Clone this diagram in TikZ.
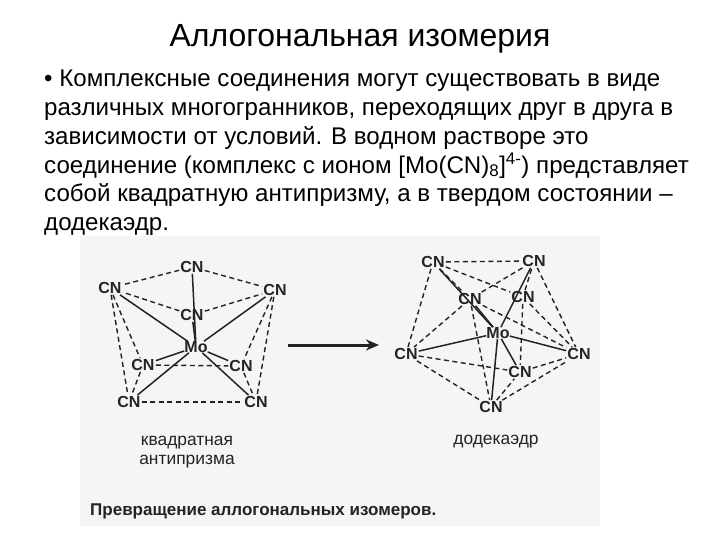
\documentclass[tikz,border=0pt]{standalone}
\usepackage{fontspec}
\setmainfont{Liberation Sans}
\usetikzlibrary{arrows.meta, positioning}
\definecolor{scanGray}{RGB}{245, 245, 245}
\definecolor{inkDark}{RGB}{35, 35, 35}
\tikzset{
  ligand/.style={
    font=\fontsize{16}{16}\selectfont\bfseries,
    color=inkDark, inner sep=1pt
  },
  metal/.style={
    font=\fontsize{16}{16}\selectfont\bfseries,
    color=inkDark, inner sep=0pt
  },
  bondsolid/.style={
    color=inkDark, line width=1.5pt
  },
  bonddash/.style={
    color=inkDark, line width=1.4pt, dash pattern=on 5pt off 3.5pt
  },
  caplabel/.style={
    font=\fontsize{17.4}{19}\selectfont,
    color=inkDark, align=center, inner sep=0pt
  },
  arrow/.style={
    -{Stealth[length=13pt,width=11pt]},
    line width=3pt,
    color=inkDark
  }
}

\begin{document}
\begin{tikzpicture}[x=1pt, y=-1pt]

  \useasboundingbox (0,0) rectangle (720,540);

  % ── Scanned page ──────────────────────────────────────────────────────────
  \fill[scanGray] (80,236) rectangle (600,526);

  % ── Slide text ────────────────────────────────────────────────────────────
  \node[font=\fontsize{32}{34}\selectfont,inner sep=0pt] (title) at (360,39) {Аллогональная изомерия};
  \node[anchor=north west,inner sep=0pt,align=left,font=\fontsize{24.1}{28.8}\selectfont] (body) at (44,70) {%
    • Комплексные соединения могут существовать в виде\\
    различных многогранников, переходящих друг в друга в\\
    зависимости от условий. В водном растворе это\\
    соединение (комплекс с ионом [Mo(CN)\textsubscript{8}]\textsuperscript{4-}) представляет\\
    собой квадратную антипризму, а в твердом состоянии –\\
    додекаэдр.};

  % ── Square antiprism ──────────────────────────────────────────────────────
  \node[metal] (moA) at (196,347) {Mo};
  \node[ligand] (aTop) at (192,267) {CN};
  \node[ligand] (aLeft) at (110,288) {CN};
  \node[ligand] (aRight) at (275,290) {CN};
  \node[ligand] (aMid) at (192,315) {CN};
  \node[ligand] (aInL) at (143,365) {CN};
  \node[ligand] (aInR) at (241,366) {CN};
  \node[ligand] (aBotL) at (129,402) {CN};
  \node[ligand] (aBotR) at (256,402) {CN};

  \foreach \a in {aTop,aLeft,aRight,aMid,aInL,aInR,aBotL,aBotR}{
    \draw[bondsolid] (moA) -- (\a);
  }
  \foreach \a/\b in {aTop/aLeft,aTop/aRight,aMid/aLeft,aMid/aRight,
                     aLeft/aInL,aLeft/aBotL,aInL/aBotL,
                     aRight/aInR,aRight/aBotR,aInR/aBotR,
                     aInL/aInR,aBotL/aBotR}{
    \draw[bonddash] (\a) -- (\b);
  }
  \node[caplabel] (capA) at (187,452) {квадратная\\антипризма};

  % ── Reaction arrow ────────────────────────────────────────────────────────
  \coordinate (arrStart) at (288,345);
  \coordinate (arrEnd) at (379,345);
  \draw[arrow] (arrStart) -- (arrEnd);

  % ── Dodecahedron ──────────────────────────────────────────────────────────
  \node[metal] (moB) at (498,333) {Mo};
  \node[ligand] (bTopL) at (433,262) {CN};
  \node[ligand] (bTopR) at (534,261) {CN};
  \node[ligand] (bInL) at (470,299) {CN};
  \node[ligand] (bInR) at (523,297) {CN};
  \node[ligand] (bLeft) at (406,354) {CN};
  \node[ligand] (bRight) at (579,354) {CN};
  \node[ligand] (bLow) at (520,372) {CN};
  \node[ligand] (bBot) at (491,407) {CN};

  \foreach \a in {bTopL,bTopR,bInL,bLeft,bRight,bLow,bBot}{
    \draw[bondsolid] (moB) -- (\a);
  }
  \foreach \a/\b in {bTopL/bTopR,bTopL/bLeft,bTopL/bInR,bTopL/bInL,
                     bTopR/bInL,bTopR/bRight,bInL/bLeft,bInR/bRight,
                     bInR/bTopR,bInL/bBot,bInL/bRight,bInR/bLow,
                     bLeft/bBot,bLeft/bLow,bBot/bRight,bBot/bLow,bLow/bRight}{
    \draw[bonddash] (\a) -- (\b);
  }
  \node[caplabel] (capB) at (496,442) {додекаэдр};

  % ── Figure caption ────────────────────────────────────────────────────────
  \node[anchor=west,inner sep=0pt,color=inkDark,font=\fontsize{17}{18}\selectfont\bfseries] (figcap) at (90,511) {Превращение аллогональных изомеров.};

\end{tikzpicture}
\end{document}
